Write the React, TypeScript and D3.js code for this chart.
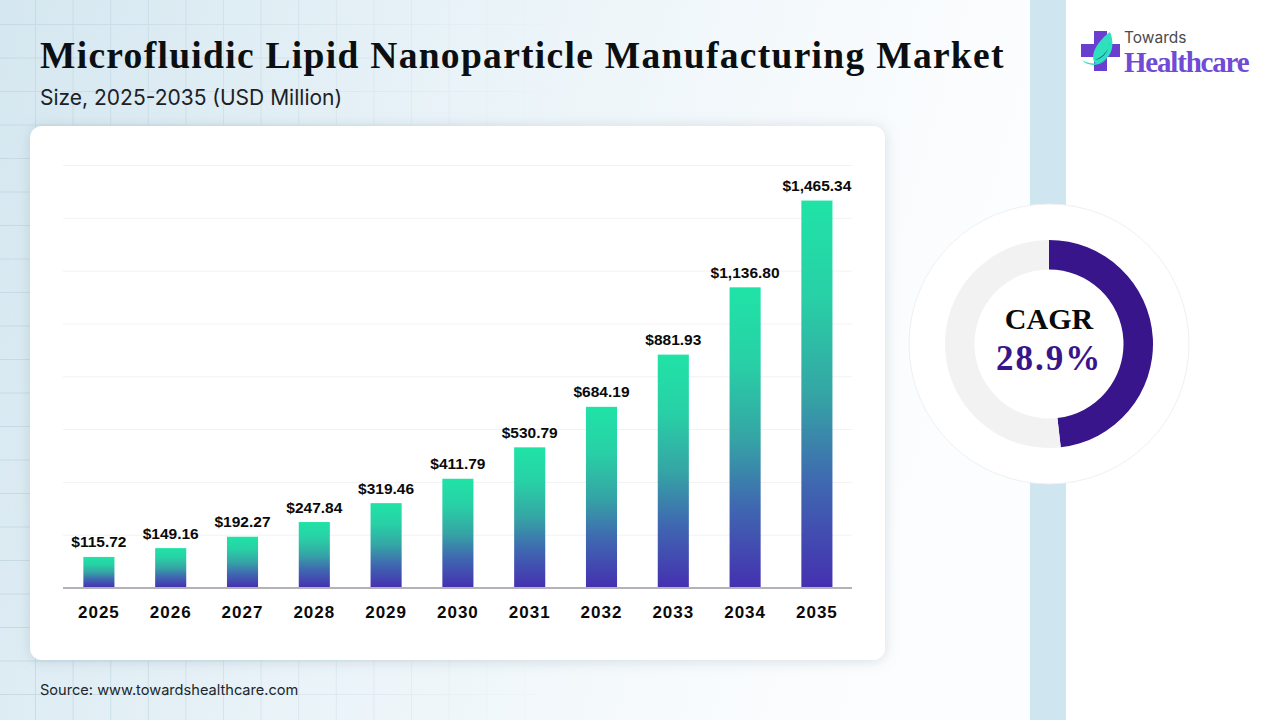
import React, { useEffect, useRef } from 'react';
import * as d3 from 'd3';

const years = ['2025', '2026', '2027', '2028', '2029', '2030', '2031', '2032', '2033', '2034', '2035'];
const values = [115.72, 149.16, 192.27, 247.84, 319.46, 411.79, 530.79, 684.19, 881.93, 1136.8, 1465.34];
const gridTicks = [0, 200, 400, 600, 800, 1000, 1200, 1400, 1600];
const cagr = 28.9;
// share of the ring the dark arc covers
const ringShare = 0.482;

const serif = '"Liberation Serif", "DejaVu Serif", serif';
const sans = '"Liberation Sans", Arial, sans-serif';
const inter = 'Inter, "Noto Sans", sans-serif';

const App: React.FC = () => {
  const ref = useRef<SVGSVGElement>(null);

  useEffect(() => {
    document.body.style.margin = '0';
    const svg = d3.select(ref.current);
    svg.selectAll('*').remove();
    const width = 1280;
    const height = 720;
    svg.attr('width', width).attr('height', height).style('display', 'block');

    const defs = svg.append('defs');

    const bg = defs.append('linearGradient').attr('id', 'bg')
      .attr('x1', 0).attr('y1', 0).attr('x2', 1).attr('y2', 0.2);
    bg.append('stop').attr('offset', '0%').attr('stop-color', '#d5e7f0');
    bg.append('stop').attr('offset', '45%').attr('stop-color', '#e9f3f8');
    bg.append('stop').attr('offset', '85%').attr('stop-color', '#f8fbfd');
    bg.append('stop').attr('offset', '100%').attr('stop-color', '#fcfdfe');

    const barFill = defs.append('linearGradient').attr('id', 'barFill')
      .attr('x1', 0).attr('y1', 0).attr('x2', 0).attr('y2', 1);
    barFill.append('stop').attr('offset', '0%').attr('stop-color', '#20e3a6');
    barFill.append('stop').attr('offset', '25%').attr('stop-color', '#28d0a6');
    barFill.append('stop').attr('offset', '50%').attr('stop-color', '#35a5a5');
    barFill.append('stop').attr('offset', '72%').attr('stop-color', '#3f6ab0');
    barFill.append('stop').attr('offset', '100%').attr('stop-color', '#4530b0');

    const fade = defs.append('linearGradient').attr('id', 'fade')
      .attr('x1', 0).attr('y1', 0).attr('x2', 1).attr('y2', 0);
    fade.append('stop').attr('offset', '0%').attr('stop-color', '#fff').attr('stop-opacity', 1);
    fade.append('stop').attr('offset', '100%').attr('stop-color', '#fff').attr('stop-opacity', 0);
    defs.append('mask').attr('id', 'gridMask').attr('maskUnits', 'userSpaceOnUse')
      .attr('x', 0).attr('y', 0).attr('width', width).attr('height', height)
      .append('rect').attr('width', 560).attr('height', height).attr('fill', 'url(#fade)');

    const shadow = defs.append('filter').attr('id', 'shadow')
      .attr('x', '-5%').attr('y', '-5%').attr('width', '110%').attr('height', '110%');
    shadow.append('feDropShadow').attr('dx', 0).attr('dy', 1).attr('stdDeviation', 7)
      .attr('flood-color', '#7f95a3').attr('flood-opacity', 0.3);

    // page background
    svg.append('rect').attr('width', width).attr('height', height).attr('fill', '#ffffff');
    svg.append('rect').attr('width', 1030).attr('height', height).attr('fill', 'url(#bg)');
    svg.append('rect').attr('x', 1030).attr('width', 36).attr('height', height).attr('fill', '#cfe5ef');

    const deco = svg.append('g').attr('mask', 'url(#gridMask)')
      .attr('stroke', '#c6dae4').attr('stroke-width', 1);
    deco.selectAll('line.v').data(d3.range(35.5, 560, 37.6)).join('line')
      .attr('class', 'v').attr('x1', d => d).attr('x2', d => d).attr('y1', 0).attr('y2', height);
    deco.selectAll('line.h').data(d3.range(24.5, height, 33.5)).join('line')
      .attr('class', 'h').attr('x1', 0).attr('x2', 560).attr('y1', d => d).attr('y2', d => d);

    // title block
    svg.append('text').attr('x', 40).attr('y', 68)
      .attr('font-family', serif).attr('font-size', 37.5).attr('font-weight', 700)
      .attr('letter-spacing', 1.3).attr('fill', '#0b0f12')
      .text('Microfluidic Lipid Nanoparticle Manufacturing Market');
    svg.append('text').attr('x', 40).attr('y', 105)
      .attr('font-family', inter).attr('font-size', 21).attr('fill', '#1b2126')
      .text('Size, 2025-2035 (USD Million)');

    // card
    svg.append('rect').attr('x', 30).attr('y', 126).attr('width', 855).attr('height', 534)
      .attr('rx', 12).attr('fill', '#ffffff').attr('filter', 'url(#shadow)');

    const x = d3.scaleBand<string>().domain(years).range([63, 852.8]).paddingInner(0.567).paddingOuter(0.2835);
    const y = d3.scaleLinear().domain([0, 1600]).range([587.5, 165]);

    svg.append('g').selectAll('line').data(gridTicks.slice(1)).join('line')
      .attr('x1', 63).attr('x2', 852)
      .attr('y1', d => y(d) + 0.5).attr('y2', d => y(d) + 0.5)
      .attr('stroke', '#f2f2f2').attr('stroke-width', 1);

    svg.append('g').selectAll('rect').data(values).join('rect')
      .attr('x', (d, i) => x(years[i])!)
      .attr('y', d => y(d))
      .attr('width', x.bandwidth())
      .attr('height', d => y(0) - y(d))
      .attr('fill', 'url(#barFill)');

    svg.append('line').attr('x1', 63).attr('x2', 852).attr('y1', 588).attr('y2', 588)
      .attr('stroke', '#b4b2b8').attr('stroke-width', 2);

    svg.append('g').selectAll('text').data(values).join('text')
      .attr('x', (d, i) => x(years[i])! + x.bandwidth() / 2)
      .attr('y', d => y(d) - 9.5)
      .attr('text-anchor', 'middle')
      .attr('font-family', sans).attr('font-size', 15.5).attr('font-weight', 700).attr('fill', '#0a0a0a')
      .text(d => '$' + d3.format(',.2f')(d));

    svg.append('g').selectAll('text').data(years).join('text')
      .attr('x', d => x(d)! + x.bandwidth() / 2)
      .attr('y', 618)
      .attr('text-anchor', 'middle')
      .attr('font-family', sans).attr('font-size', 17).attr('font-weight', 700)
      .attr('letter-spacing', 1).attr('fill', '#0a0a0a')
      .text(d => d);

    svg.append('text').attr('x', 40).attr('y', 695)
      .attr('font-family', inter).attr('font-size', 14.6).attr('fill', '#20262b')
      .text('Source: www.towardshealthcare.com');

    // CAGR ring
    const ring = svg.append('g').attr('transform', 'translate(1049,344)');
    ring.append('circle').attr('r', 140).attr('fill', '#ffffff').attr('stroke', '#eef0f1');
    const arc = d3.arc<d3.PieArcDatum<number>>().innerRadius(74.5).outerRadius(104);
    const pie = d3.pie<number>().sort(null).value(d => d);
    ring.selectAll('path').data(pie([ringShare, 1 - ringShare])).join('path')
      .attr('d', arc)
      .attr('fill', (d, i) => (i === 0 ? '#38158a' : '#f3f2f3'));
    ring.append('text').attr('x', 0).attr('y', -15).attr('text-anchor', 'middle')
      .attr('font-family', serif).attr('font-size', 30).attr('font-weight', 700).attr('fill', '#0a0a0a')
      .text('CAGR');
    ring.append('text').attr('x', 0).attr('y', 26).attr('text-anchor', 'middle')
      .attr('font-family', serif).attr('font-size', 35).attr('font-weight', 700)
      .attr('letter-spacing', 2).attr('fill', '#38158a')
      .text(`${cagr}%`);

    // logo
    const logo = svg.append('g');
    logo.append('path')
      .attr('d', 'M1094 31h13v13h13v13h-13v14h-13v-14h-13v-13h13z')
      .attr('fill', '#6a3fd0');
    logo.append('path')
      .attr('d', 'M1110 32c4 9 3 20-3 26c-3 4-8 6-12 5c-6-9 4-23 15-31z')
      .attr('fill', '#2fe0bf');
    logo.append('path')
      .attr('d', 'M1110 42c-1 8-6 14-15 18c6-1 13-6 15-18z')
      .attr('fill', '#2b3a8a');
    logo.append('path')
      .attr('d', 'M1082 60c5 3 10 4 15 3c4 0 7-2 9-3c-6 6-18 7-24 0z')
      .attr('fill', '#2fe0bf');
    logo.append('text').attr('x', 1124).attr('y', 43)
      .attr('font-family', inter).attr('font-size', 15.5).attr('fill', '#4a4a4f')
      .text('Towards');
    logo.append('text').attr('x', 1124).attr('y', 72)
      .attr('font-family', serif).attr('font-size', 29).attr('font-weight', 700)
      .attr('letter-spacing', -1.2).attr('fill', '#6f4bd6')
      .text('Healthcare');
  }, []);

  return <svg ref={ref}></svg>;
};

export default App;
